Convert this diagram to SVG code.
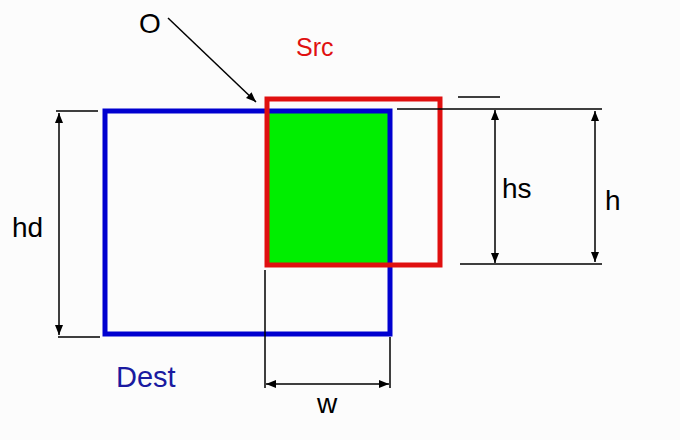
<svg xmlns="http://www.w3.org/2000/svg" width="680" height="440" viewBox="0 0 680 440">
<defs>
<marker id="ah" viewBox="0 0 10 10" refX="10" refY="5" markerWidth="10" markerHeight="10" markerUnits="userSpaceOnUse" orient="auto-start-reverse">
<path d="M0,1 L10,5 L0,9 Z" fill="#000"/>
</marker>
<style>
.dim{stroke:#000;stroke-width:1.5;fill:none}
.arr{stroke:#000;stroke-width:1.5;fill:none;marker-start:url(#ah);marker-end:url(#ah)}
.t{font-family:"Liberation Sans",Arial,sans-serif;font-size:28px}
</style>
</defs>
<rect width="680" height="440" fill="#fcfcfc"/>
<g id="overlap"><rect x="267" y="111" width="123" height="154" fill="#00ee00"/></g>
<g id="dest"><rect x="105" y="111" width="285" height="223" fill="none" stroke="#0000d0" stroke-width="5"/>
<text class="t" x="116" y="387" fill="#1a1aa0" style="font-size:29px">Dest</text></g>
<g id="src"><rect x="267" y="99" width="173" height="166" fill="none" stroke="#e01010" stroke-width="5"/>
<text class="t" x="296" y="56" fill="#e01010" style="font-size:25px">Src</text></g>
<g id="origin"><text class="t" x="139" y="33" fill="#000">O</text></g>
<g id="connectors">
<line class="dim" x1="168" y1="18" x2="256" y2="102" marker-end="url(#ah)"/>
<line class="dim" x1="56" y1="111" x2="98" y2="111"/>
<line class="dim" x1="58" y1="337" x2="100" y2="337"/>
<line class="arr" x1="59" y1="113" x2="59" y2="335"/>
<line class="dim" x1="458" y1="97" x2="500" y2="97"/>
<line class="dim" x1="397" y1="109" x2="602" y2="109"/>
<line class="dim" x1="460" y1="264" x2="602" y2="264"/>
<line class="arr" x1="495" y1="110" x2="495" y2="263"/>
<line class="arr" x1="595" y1="111" x2="595" y2="262"/>
<line class="dim" x1="265" y1="270" x2="265" y2="388"/>
<line class="dim" x1="390" y1="337" x2="390" y2="388"/>
<line class="arr" x1="266" y1="384" x2="389" y2="384"/>
</g>
<g id="labels">
<text class="t" x="12" y="237">hd</text>
<text class="t" x="502" y="198">hs</text>
<text class="t" x="605" y="210">h</text>
<text class="t" x="317" y="413">w</text>
</g>
</svg>
